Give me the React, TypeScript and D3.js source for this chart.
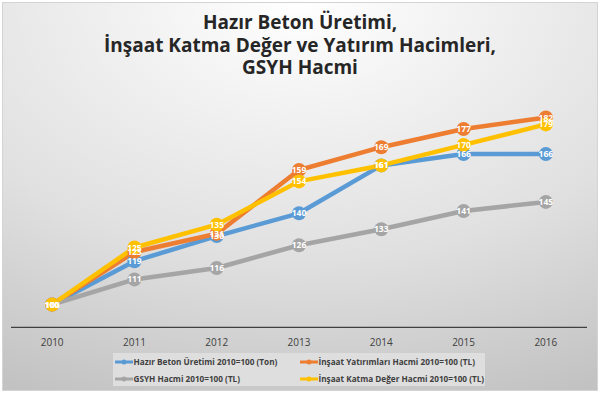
import React from 'react';
import * as d3 from 'd3';

const years = ['2010', '2011', '2012', '2013', '2014', '2015', '2016'];
const betonValues = [100, 119, 130, 140, 161, 166, 166];
const yatirimValues = [100, 123, 131, 159, 169, 177, 182];
const gsyhValues = [100, 111, 116, 126, 133, 141, 145];
const katmaValues = [100, 125, 135, 154, 161, 170, 179];
const seriesNames = [
  'Hazır Beton Üretimi 2010=100 (Ton)',
  'İnşaat Yatırımları Hacmi 2010=100 (TL)',
  'GSYH Hacmi 2010=100 (TL)',
  'İnşaat Katma Değer Hacmi 2010=100 (TL)',
];
const seriesColors = ['#5B9BD5', '#ED7D31', '#A5A5A5', '#FFC000'];
const titleLines = ['Hazır Beton Üretimi,', 'İnşaat Katma Değer ve Yatırım Hacimleri,', 'GSYH Hacmi'];

const W = 600;
const H = 394;
const FONT = "'Open Sans', sans-serif";

const App = () => {
  const series = [betonValues, yatirimValues, gsyhValues, katmaValues].map((values, i) => ({
    name: seriesNames[i],
    color: seriesColors[i],
    values,
  }));

  // plot area
  const x = d3.scaleBand().domain(years).range([11, 587]);
  const y = d3.scaleLinear().domain([90, 200]).range([327.3, 76.5]);
  const cx = (yr: string) => (x(yr) ?? 0) + x.bandwidth() / 2;

  const line = d3
    .line<number>()
    .x((_, i) => cx(years[i]))
    .y(d => y(d));

  // legend slots: 2 columns x 2 rows
  const legendPos = [
    {x: 115, y: 362},
    {x: 300, y: 362},
    {x: 115, y: 379},
    {x: 300, y: 379},
  ];

  return (
    <svg width={W} height={H} style={{display: 'block', position: 'absolute', left: 0, top: 0}}>
      <defs>
        <radialGradient id="bg" cx="50%" cy="0%" r="110%" fx="50%" fy="0%">
          <stop offset="0%" stopColor="#ffffff" />
          <stop offset="60%" stopColor="#e0e0e0" />
          <stop offset="100%" stopColor="#c2c2c2" />
        </radialGradient>
      </defs>
      <rect x={0} y={0} width={W} height={H} fill="#ffffff" />
      <rect x={2.5} y={2.5} width={595} height={388} fill="url(#bg)" stroke="#d4d4d4" strokeWidth={1} />

      {/* title */}
      <g fontFamily={FONT} fontWeight="bold" fontSize={19} fill="#262626" textAnchor="middle">
        {titleLines.map((t, i) => (
          <text key={i} x={300} y={29 + i * 22.5}>
            {t}
          </text>
        ))}
      </g>

      {/* category axis */}
      <line x1={11} x2={587} y1={327.3} y2={327.3} stroke="#404040" strokeWidth={1.2} />
      <g fontFamily={FONT} fontSize={10} fill="#404040" textAnchor="middle">
        {years.map(yr => (
          <text key={yr} x={cx(yr)} y={345.5}>
            {yr}
          </text>
        ))}
      </g>

      {/* lines */}
      {series.map(s => (
        <path
          key={s.name}
          d={line(s.values) ?? ''}
          fill="none"
          stroke={s.color}
          strokeWidth={4.5}
          strokeLinejoin="round"
          strokeLinecap="round"
        />
      ))}

      {/* markers + data labels */}
      {series.map(s => (
        <g key={s.name + '-pts'}>
          {s.values.map((v, i) => (
            <circle key={i} cx={cx(years[i])} cy={y(v)} r={7} fill={s.color} />
          ))}
        </g>
      ))}
      {series.map(s => (
        <g
          key={s.name + '-lbl'}
          fontFamily={FONT}
          fontWeight="bold"
          fontSize={8.5}
          fill="#ffffff"
          textAnchor="middle"
        >
          {s.values.map((v, i) => (
            <text key={i} x={cx(years[i])} y={y(v) + 3}>
              {v}
            </text>
          ))}
        </g>
      ))}

      {/* legend */}
      <rect x={113} y={353} width={372} height={33} fill="#dedede" />
      {series.map((s, i) => (
        <g key={s.name + '-leg'}>
          <line
            x1={legendPos[i].x}
            x2={legendPos[i].x + 18}
            y1={legendPos[i].y}
            y2={legendPos[i].y}
            stroke={s.color}
            strokeWidth={3}
          />
          <circle cx={legendPos[i].x + 9} cy={legendPos[i].y} r={2.5} fill={s.color} />
          <text
            x={legendPos[i].x + 18.5}
            y={legendPos[i].y + 3}
            fontFamily={FONT}
            fontWeight="bold"
            fontSize={8.2}
            fill="#404040"
          >
            {s.name}
          </text>
        </g>
      ))}
    </svg>
  );
};

export default App;
